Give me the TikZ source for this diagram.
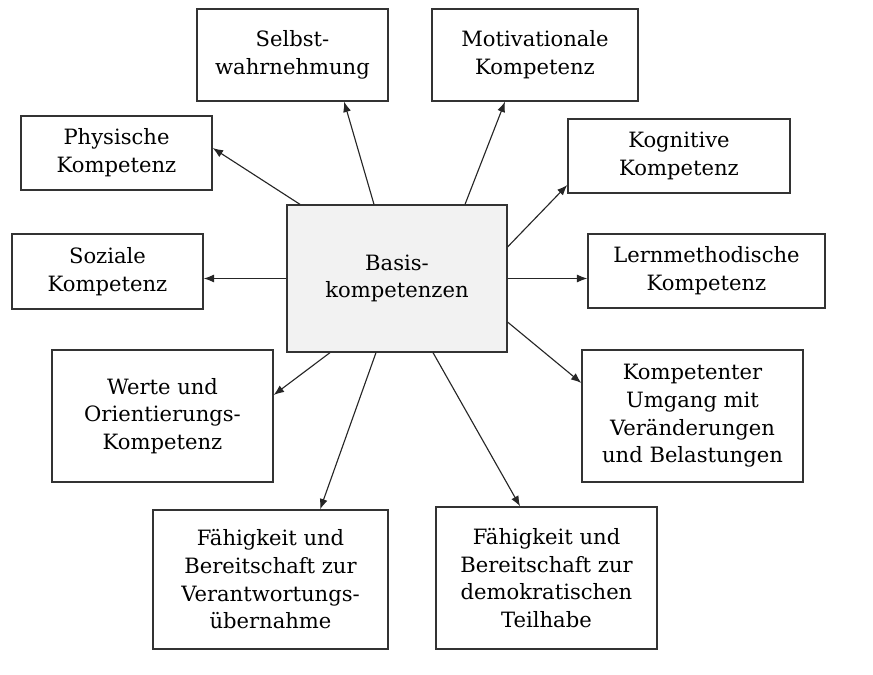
\documentclass[tikz,border=0pt]{standalone}
\usepackage{fontspec}
\setmainfont{DejaVu Serif}
\usepackage{tikz}
\usetikzlibrary{positioning}
\usetikzlibrary{arrows.meta}
\tikzset{
    kbox/.style = {rectangle, draw=black!80, line width=0.9pt, align=center, inner sep=0pt,
                   font=\fontsize{15}{19.7}\selectfont},
    kboxg/.style = {kbox, fill=black!5},
    edgek/.style = {-{Latex[length=2.6mm,width=2mm]}, line width=0.8pt, black!85},
}

\begin{document}
\begin{tikzpicture}[x=0.025cm,y=-0.025cm]
\useasboundingbox (0,0) rectangle (873,675);

\node[kboxg, minimum width=5.5cm, minimum height=3.675cm] at (397.0, 278.5) (basis) {Basis-\\kompetenzen};

\node[kbox, minimum width=4.775cm, minimum height=2.3cm] at (292.5, 55.0) (selbst) {Selbst-\\wahrnehmung};
\node[kbox, minimum width=5.15cm, minimum height=2.3cm] at (535.0, 55.0) (motiv) {Motivationale\\Kompetenz};
\node[kbox, minimum width=4.775cm, minimum height=1.85cm] at (116.5, 153.0) (phys) {Physische\\Kompetenz};
\node[kbox, minimum width=5.55cm, minimum height=1.85cm] at (679.0, 156.0) (kogn) {Kognitive\\Kompetenz};
\node[kbox, minimum width=4.775cm, minimum height=1.875cm] at (107.5, 271.5) (sozial) {Soziale\\Kompetenz};
\node[kbox, minimum width=5.925cm, minimum height=1.85cm] at (706.5, 271.0) (lern) {Lernmethodische\\Kompetenz};
\node[kbox, minimum width=5.525cm, minimum height=3.3cm] at (162.5, 416.0) (werte) {Werte und\\Orientierungs-\\Kompetenz};
\node[kbox, minimum width=5.525cm, minimum height=3.3cm] at (692.5, 416.0) (umgang) {Kompetenter\\Umgang mit\\Veränderungen\\und Belastungen};
\node[kbox, minimum width=5.875cm, minimum height=3.475cm] at (270.5, 579.5) (verant) {Fähigkeit und\\Bereitschaft zur\\Verantwortungs-\\übernahme};
\node[kbox, minimum width=5.525cm, minimum height=3.55cm, text depth=-0.25cm] at (546.5, 578.0) (demo) {Fähigkeit und\\Bereitschaft zur\\demokratischen\\Teilhabe};
%
\draw[edgek] ([xshift=-2.425cm]basis.north) -- ([yshift=0.125cm]phys.east);
\draw[edgek] ([xshift=-0.575cm]basis.north) -- ([xshift=1.29cm]selbst.south);
\draw[edgek] ([xshift=1.7cm]basis.north) -- ([xshift=-0.75cm]motiv.south);
\draw[edgek] ([yshift=0.79cm]basis.east) -- ([yshift=-0.725cm]kogn.west);
\draw[edgek] (basis.east) -- (basis.east -| lern.west);
\draw[edgek] ([yshift=-1.09cm]basis.east) -- ([yshift=0.825cm]umgang.west);
\draw[edgek] (basis.west) -- (basis.west -| sozial.east);
\draw[edgek] ([xshift=-1.675cm]basis.south) -- ([yshift=0.525cm]werte.east);
\draw[edgek] ([xshift=-0.525cm]basis.south) -- ([xshift=1.24cm]verant.north);
\draw[edgek] ([xshift=0.9cm]basis.south) -- ([xshift=-0.66cm]demo.north);

\end{tikzpicture}
\end{document}
